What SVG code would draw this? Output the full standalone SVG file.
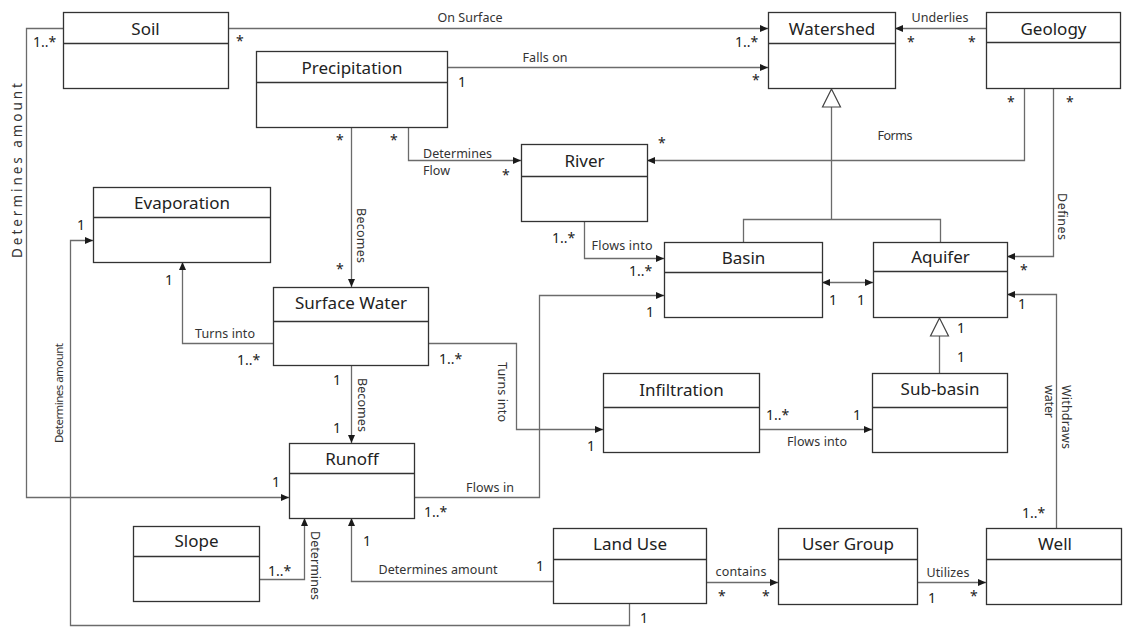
<svg xmlns="http://www.w3.org/2000/svg" width="1123" height="627" viewBox="0 0 1123 627">
  <defs>
    <marker id="arrow" markerUnits="userSpaceOnUse" markerWidth="9" markerHeight="8" refX="8" refY="3.5" orient="auto-start-reverse">
      <path d="M0,0 L8,3.5 L0,7 z" fill="#1a1a1a"/>
    </marker>
    <style>
      .box { fill: #ffffff; stroke: #333333; stroke-width: 1.3; }
      .div { stroke: #333333; stroke-width: 1.3; }
      .title { font-family: "Noto Sans", "Open Sans", sans-serif; font-size: 17px; fill: #222222; text-anchor: middle; }
      .conn { fill: none; stroke: #6b6b6b; stroke-width: 1.3; }
      .arr { marker-end: url(#arrow); }
      .gen { fill: #ffffff; stroke: #444444; stroke-width: 1.2; }
      .lbl { font-family: "Noto Sans", "Open Sans", sans-serif; font-size: 12.5px; fill: #333333; }
      .mid { text-anchor: middle; }
      .mult { font-family: "Noto Sans", "Open Sans", sans-serif; font-size: 14px; fill: #222222; }
    </style>
  </defs>

  <!-- connectors -->
  <g id="connectors">
    <!-- Soil to Watershed -->
    <path class="conn arr" d="M228,28.5 H768"/>
    <!-- Soil to Runoff -->
    <path class="conn arr" d="M63,28.5 H26.5 V497.5 H289"/>
    <!-- Precipitation to Watershed -->
    <path class="conn arr" d="M447,67.5 H768"/>
    <!-- Geology to Watershed -->
    <path class="conn arr" d="M986,28.5 H895"/>
    <!-- Precipitation to River -->
    <path class="conn arr" d="M408.5,127 V160.5 H521"/>
    <!-- Geology to River -->
    <path class="conn arr" d="M1024.5,88 V160.5 H647"/>
    <!-- Geology to Aquifer -->
    <path class="conn arr" d="M1053.5,88 V256.5 H1007"/>
    <!-- Basin / Aquifer generalization of Watershed -->
    <path class="conn" d="M831.5,107 V219.5"/>
    <path class="conn" d="M743.5,242 V219.5 H940.5 V242"/>
    <polygon class="gen" points="831.5,89 822.5,107 840.5,107"/>
    <!-- Basin to Aquifer -->
    <path class="conn arr" style="marker-start:url(#arrow)" d="M822,282.5 H873"/>
    <!-- Sub-basin generalization of Aquifer -->
    <path class="conn" d="M939.5,336 V373"/>
    <polygon class="gen" points="939.5,318 930.5,336 948.5,336"/>
    <!-- River to Basin -->
    <path class="conn arr" d="M584.5,221 V258.5 H664"/>
    <!-- Runoff to Basin -->
    <path class="conn arr" d="M414,497.5 H539.5 V295.5 H664"/>
    <!-- Surface Water to Infiltration -->
    <path class="conn arr" d="M428,343.5 H516.5 V429.5 H603"/>
    <!-- Infiltration to Sub-basin -->
    <path class="conn arr" d="M759,429.5 H872"/>
    <!-- Surface Water to Evaporation -->
    <path class="conn arr" d="M273,343.5 H182.5 V262"/>
    <!-- Precipitation to Surface Water -->
    <path class="conn arr" d="M351.5,127 V287"/>
    <!-- Surface Water to Runoff -->
    <path class="conn arr" d="M351.5,366 V443"/>
    <!-- Slope to Runoff -->
    <path class="conn arr" d="M259,579.5 H304.5 V518"/>
    <!-- Land Use to Runoff -->
    <path class="conn arr" d="M553,581.5 H351.5 V518"/>
    <!-- Land Use to Evaporation -->
    <path class="conn arr" d="M629.5,603 V625.5 H70.5 V240.5 H93"/>
    <!-- Land Use to User Group -->
    <path class="conn arr" d="M706,582.5 H778"/>
    <!-- User Group to Well -->
    <path class="conn arr" d="M917,582.5 H986"/>
    <!-- Well to Aquifer -->
    <path class="conn arr" d="M1056.5,528 V294.5 H1007"/>

    <!-- association labels -->
    <text class="lbl mid" x="470" y="22" textLength="65">On Surface</text>
    <text class="lbl mid" x="545" y="62" textLength="45">Falls on</text>
    <text class="lbl mid" x="940" y="22" textLength="57">Underlies</text>
    <text class="lbl" x="423" y="158" textLength="69">Determines</text>
    <text class="lbl" x="423" y="175" textLength="27">Flow</text>
    <text class="lbl mid" x="895" y="140" textLength="35">Forms</text>
    <text class="lbl mid" x="622" y="250" textLength="61">Flows into</text>
    <text class="lbl mid" x="225" y="338" textLength="60">Turns into</text>
    <text class="lbl mid" x="490" y="492" textLength="48">Flows in</text>
    <text class="lbl mid" x="817" y="446" textLength="60">Flows into</text>
    <text class="lbl mid" x="438" y="574" textLength="119">Determines amount</text>
    <text class="lbl mid" x="741" y="576" textLength="51">contains</text>
    <text class="lbl mid" x="948" y="577" textLength="43">Utilizes</text>
    <text class="lbl mid" transform="translate(357,235.5) rotate(90)" textLength="55">Becomes</text>
    <text class="lbl mid" transform="translate(358,405) rotate(90)" textLength="54">Becomes</text>
    <text class="lbl mid" transform="translate(1058,216.5) rotate(90)" textLength="47">Defines</text>
    <text class="lbl mid" transform="translate(498,392) rotate(90)" textLength="60">Turns into</text>
    <text class="lbl mid" transform="translate(311,565.5) rotate(90)" textLength="69">Determines</text>
    <text class="lbl" transform="translate(1062,385) rotate(90)" textLength="64">Withdraws</text>
    <text class="lbl" transform="translate(1045,385) rotate(90)" textLength="33">water</text>
    <text class="lbl mid" style="font-size:13.5px" transform="translate(22,170.5) rotate(-90)" textLength="175">Determines amount</text>
    <text class="lbl mid" style="font-size:11.5px" transform="translate(63,393) rotate(-90)" textLength="100">Determines amount</text>

    <!-- multiplicities -->
    <text class="mult" x="33" y="47">1..*</text>
    <text class="mult" x="236" y="46">*</text>
    <text class="mult" x="735" y="47">1..*</text>
    <text class="mult" x="458" y="87">1</text>
    <text class="mult" x="752" y="85">*</text>
    <text class="mult" x="907" y="47">*</text>
    <text class="mult" x="968" y="47">*</text>
    <text class="mult" x="390" y="145">*</text>
    <text class="mult" x="502" y="180">*</text>
    <text class="mult" x="658" y="148">*</text>
    <text class="mult" x="1007" y="107">*</text>
    <text class="mult" x="1066" y="107">*</text>
    <text class="mult" x="336" y="145">*</text>
    <text class="mult" x="336" y="274">*</text>
    <text class="mult" x="77" y="230">1</text>
    <text class="mult" x="165" y="285">1</text>
    <text class="mult" x="237" y="365">1..*</text>
    <text class="mult" x="333" y="385">1</text>
    <text class="mult" x="333" y="433">1</text>
    <text class="mult" x="439" y="364">1..*</text>
    <text class="mult" x="552" y="243">1..*</text>
    <text class="mult" x="629" y="276">1..*</text>
    <text class="mult" x="646" y="317">1</text>
    <text class="mult" x="829" y="305">1</text>
    <text class="mult" x="857" y="305">1</text>
    <text class="mult" x="1020" y="275">*</text>
    <text class="mult" x="1018" y="309">1</text>
    <text class="mult" x="957" y="333">1</text>
    <text class="mult" x="957" y="362">1</text>
    <text class="mult" x="587" y="451">1</text>
    <text class="mult" x="766" y="420">1..*</text>
    <text class="mult" x="853" y="420">1</text>
    <text class="mult" x="272" y="487">1</text>
    <text class="mult" x="424" y="517">1..*</text>
    <text class="mult" x="268" y="576">1..*</text>
    <text class="mult" x="363" y="546">1</text>
    <text class="mult" x="536" y="571">1</text>
    <text class="mult" x="718" y="601">*</text>
    <text class="mult" x="640" y="623">1</text>
    <text class="mult" x="762" y="601">*</text>
    <text class="mult" x="928" y="603">1</text>
    <text class="mult" x="970" y="601">*</text>
    <text class="mult" x="1022" y="518">1..*</text>
  </g>

  <!-- classes -->
  <g id="soil">
    <rect class="box" x="63.5" y="12.5" width="165" height="76"/>
    <line class="div" x1="63.5" y1="43.5" x2="228.5" y2="43.5"/>
    <text class="title" x="145.5" y="35">Soil</text>
  </g>
  <g id="precipitation">
    <rect class="box" x="256.5" y="51.5" width="191" height="76"/>
    <line class="div" x1="256.5" y1="82.5" x2="447.5" y2="82.5"/>
    <text class="title" x="352" y="74">Precipitation</text>
  </g>
  <g id="watershed">
    <rect class="box" x="768.5" y="12.5" width="127" height="76"/>
    <line class="div" x1="768.5" y1="43.5" x2="895.5" y2="43.5"/>
    <text class="title" x="832" y="35">Watershed</text>
  </g>
  <g id="geology">
    <rect class="box" x="986.5" y="12.5" width="134" height="76"/>
    <line class="div" x1="986.5" y1="42.5" x2="1120.5" y2="42.5"/>
    <text class="title" x="1053.5" y="35">Geology</text>
  </g>
  <g id="river">
    <rect class="box" x="521.5" y="144.5" width="126" height="77"/>
    <line class="div" x1="521.5" y1="176.5" x2="647.5" y2="176.5"/>
    <text class="title" x="584.5" y="167">River</text>
  </g>
  <g id="evaporation">
    <rect class="box" x="93.5" y="187.5" width="177" height="75"/>
    <line class="div" x1="93.5" y1="217.5" x2="270.5" y2="217.5"/>
    <text class="title" x="182" y="209">Evaporation</text>
  </g>
  <g id="surface-water">
    <rect class="box" x="273.5" y="287.5" width="155" height="78"/>
    <line class="div" x1="273.5" y1="321.5" x2="428.5" y2="321.5"/>
    <text class="title" x="351" y="309">Surface Water</text>
  </g>
  <g id="basin">
    <rect class="box" x="664.5" y="242.5" width="158" height="75"/>
    <line class="div" x1="664.5" y1="272.5" x2="822.5" y2="272.5"/>
    <text class="title" x="743.5" y="264">Basin</text>
  </g>
  <g id="aquifer">
    <rect class="box" x="873.5" y="242.5" width="134" height="75"/>
    <line class="div" x1="873.5" y1="271.5" x2="1007.5" y2="271.5"/>
    <text class="title" x="940.5" y="263">Aquifer</text>
  </g>
  <g id="infiltration">
    <rect class="box" x="603.5" y="373.5" width="156" height="79"/>
    <line class="div" x1="603.5" y1="407.5" x2="759.5" y2="407.5"/>
    <text class="title" x="681.5" y="396">Infiltration</text>
  </g>
  <g id="sub-basin">
    <rect class="box" x="872.5" y="373.5" width="135" height="79"/>
    <line class="div" x1="872.5" y1="407.5" x2="1007.5" y2="407.5"/>
    <text class="title" x="940" y="395">Sub-basin</text>
  </g>
  <g id="runoff">
    <rect class="box" x="289.5" y="443.5" width="125" height="75"/>
    <line class="div" x1="289.5" y1="473.5" x2="414.5" y2="473.5"/>
    <text class="title" x="352" y="465">Runoff</text>
  </g>
  <g id="slope">
    <rect class="box" x="133.5" y="526.5" width="126" height="75"/>
    <line class="div" x1="133.5" y1="556.5" x2="259.5" y2="556.5"/>
    <text class="title" x="196.5" y="547">Slope</text>
  </g>
  <g id="land-use">
    <rect class="box" x="553.5" y="528.5" width="153" height="75"/>
    <line class="div" x1="553.5" y1="559.5" x2="706.5" y2="559.5"/>
    <text class="title" x="630" y="550">Land Use</text>
  </g>
  <g id="user-group">
    <rect class="box" x="778.5" y="528.5" width="139" height="76"/>
    <line class="div" x1="778.5" y1="559.5" x2="917.5" y2="559.5"/>
    <text class="title" x="848" y="550">User Group</text>
  </g>
  <g id="well">
    <rect class="box" x="986.5" y="528.5" width="135" height="76"/>
    <line class="div" x1="986.5" y1="559.5" x2="1121.5" y2="559.5"/>
    <text class="title" x="1055" y="550">Well</text>
  </g>
</svg>
